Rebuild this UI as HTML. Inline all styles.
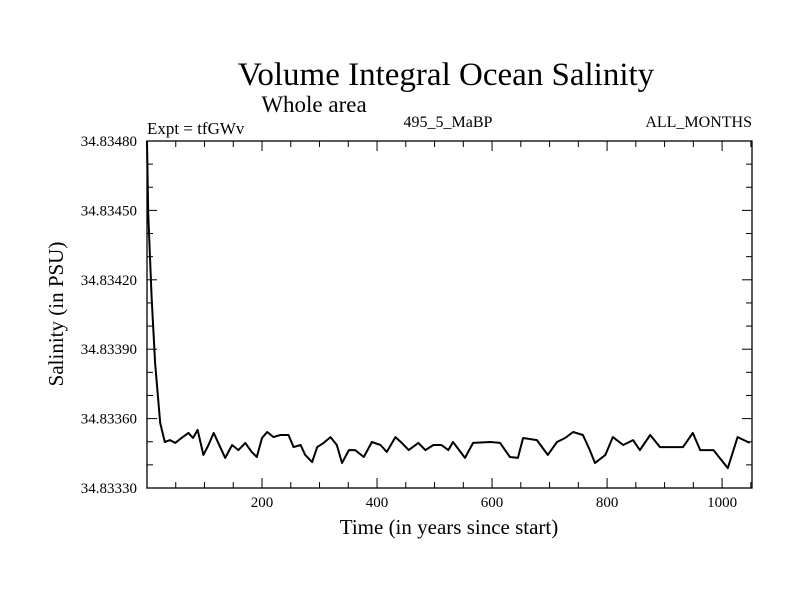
<!DOCTYPE html>
<html><head><meta charset="utf-8"><style>
html,body{margin:0;padding:0;background:#fff;}
svg{display:block;font-family:"Liberation Serif",serif;}
</style></head><body>
<svg id="chart" width="800" height="600" viewBox="0 0 800 600">
<text x="446" y="85" font-size="33" text-anchor="middle">Volume Integral Ocean Salinity</text>
<text x="314" y="112" font-size="23" text-anchor="middle">Whole area</text>
<text x="147" y="134" font-size="17">Expt = tfGWv</text>
<text x="448" y="127" font-size="16" text-anchor="middle">495_5_MaBP</text>
<text x="752" y="127" font-size="16" text-anchor="end">ALL_MONTHS</text>
<text x="449" y="534" font-size="21" text-anchor="middle">Time (in years since start)</text>
<text transform="translate(63,314) rotate(-90)" font-size="21" text-anchor="middle">Salinity (in PSU)</text>
<g id="axes"></g>
<g id="series"></g>
<rect x="147" y="141" width="605" height="347" fill="none" stroke="#000" stroke-width="1.3"/>
</svg>
<script>
const years = [0,2,8,14,23,31,40,49,60,72,80,88,98,107,116,124,136,148,159,171,182,191,200,209,220,232,246,255,267,275,287,296,307,319,330,339,351,362,377,391,406,417,432,443,455,472,484,498,512,524,532,553,567,597,614,631,645,654,678,697,713,727,741,758,770,779,797,810,828,845,857,875,892,915,932,949,962,985,1010,1027,1048];
const salinity = [34.834800,34.834489,34.834126,34.833840,34.833581,34.833499,34.833507,34.833495,34.833516,34.833538,34.833516,34.833551,34.833443,34.833486,34.833538,34.833495,34.833430,34.833486,34.833464,34.833495,34.833456,34.833434,34.833516,34.833542,34.833520,34.833529,34.833529,34.833477,34.833486,34.833443,34.833412,34.833477,34.833495,34.833520,34.833486,34.833408,34.833464,34.833464,34.833434,34.833499,34.833486,34.833456,34.833520,34.833495,34.833464,34.833495,34.833464,34.833486,34.833486,34.833464,34.833499,34.833430,34.833495,34.833499,34.833495,34.833434,34.833430,34.833516,34.833507,34.833443,34.833499,34.833516,34.833542,34.833529,34.833464,34.833408,34.833443,34.833520,34.833486,34.833507,34.833464,34.833529,34.833477,34.833477,34.833477,34.833538,34.833464,34.833464,34.833386,34.833520,34.833495];
const xTickValues = [200,400,600,800,1000];
const yTickLabels = ["34.83330","34.83360","34.83390","34.83420","34.83450","34.83480"];
const yTickValues = [34.83330,34.83360,34.83390,34.83420,34.83450,34.83480];

const NS="http://www.w3.org/2000/svg";
const L=147,R=752,T=141,B=488,XMIN=0,XMAX=1052,YMIN=34.8333,YMAX=34.8348;
function sx(v){return L+(v-XMIN)/(XMAX-XMIN)*(R-L);}
function sy(v){return B-(v-YMIN)/(YMAX-YMIN)*(B-T);}
function mk(tag,attrs,parent){const e=document.createElementNS(NS,tag);for(const k in attrs)e.setAttribute(k,attrs[k]);parent.appendChild(e);return e;}
const axes=document.getElementById('axes');
for(let v=50;v<XMAX;v+=50){
  const major=v%200===0, len=major?10:6, x=sx(v);
  const t1=mk('line',{x1:x,x2:x,y1:B,y2:B-len,stroke:'#000','stroke-width':1},axes);
  
  
  const t2=mk('line',{x1:x,x2:x,y1:T,y2:T+len,stroke:'#000','stroke-width':1},axes);
  
  
}
xTickValues.forEach(v=>{
  const t=mk('text',{x:sx(v),y:507,'font-size':15,'text-anchor':'middle'},axes);
  t.textContent=v;
  
  
});
for(let i=1;i<15;i++){
  const v=YMIN+i*0.0001, y=sy(v), major=i%3===0, len=major?10:6;
  const a=mk('line',{x1:L,x2:L+len,y1:y,y2:y,stroke:'#000','stroke-width':1},axes);
  
  
  const b=mk('line',{x1:R,x2:R-len,y1:y,y2:y,stroke:'#000','stroke-width':1},axes);
  
  
}
yTickValues.forEach((v,i)=>{
  const t=mk('text',{x:137,y:sy(v)+5,'font-size':15,'text-anchor':'end'},axes);
  t.textContent=yTickLabels[i];
  
  
});
const pts=years.map((y,i)=>sx(y).toFixed(1)+','+sy(salinity[i]).toFixed(1)).join(' ');
const line=mk('polyline',{points:pts,fill:'none',stroke:'#000','stroke-width':2,'stroke-linejoin':'round'},document.getElementById('series'));


</script>
</body></html>
